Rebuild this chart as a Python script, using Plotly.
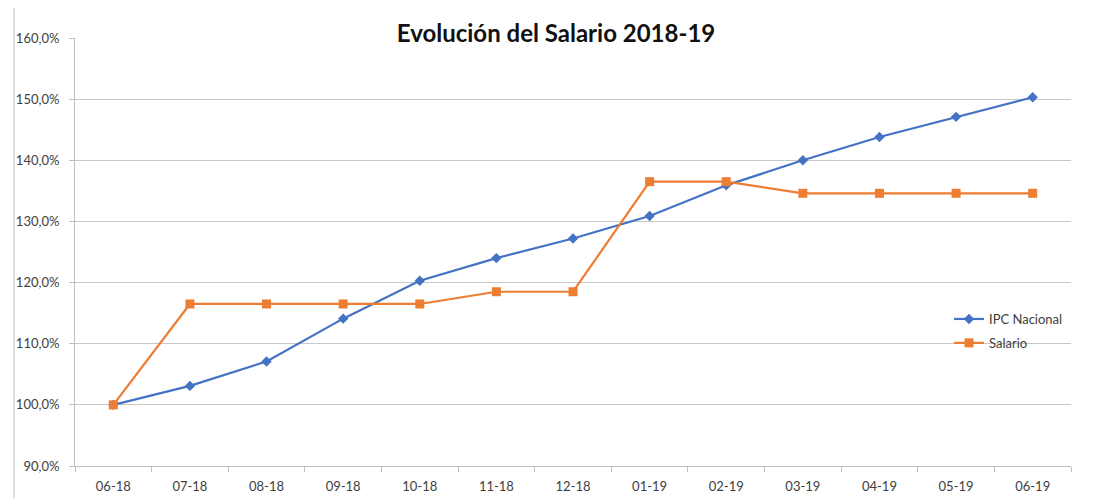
import plotly.graph_objects as go

months = ["06-18", "07-18", "08-18", "09-18", "10-18", "11-18", "12-18",
          "01-19", "02-19", "03-19", "04-19", "05-19", "06-19"]
ipc_nacional = [100.0, 103.1, 107.1, 114.1, 120.3, 124.0, 127.2,
                130.9, 135.9, 140.0, 143.8, 147.1, 150.3]
salario = [100.0, 116.5, 116.5, 116.5, 116.5, 118.5, 118.5,
           136.5, 136.5, 134.6, 134.6, 134.6, 134.6]
y_ticks = [90, 100, 110, 120, 130, 140, 150, 160]
y_tick_labels = ["90,0%", "100,0%", "110,0%", "120,0%", "130,0%", "140,0%", "150,0%", "160,0%"]

BLUE = "#4472C4"
ORANGE = "#ED7D31"
FONT = "Lato, 'Open Sans', sans-serif"

OFF = 8  # page body margin
PAGE_W, PAGE_H = 1093, 498
W, H = PAGE_W - OFF, PAGE_H - OFF
# plot area in page pixels
L, R, T, B = 75, 1071, 38, 466

def px_x(p):
    return (p - L) / (R - L)

def px_y(p):
    return (B - p) / (B - T)

fig = go.Figure()
fig.add_trace(go.Scatter(
    x=months, y=ipc_nacional, name="IPC Nacional", mode="lines+markers",
    legendgroup="a",
    line=dict(color=BLUE, width=2.2),
    marker=dict(symbol="diamond", size=8, color=BLUE),
))
fig.add_trace(go.Scatter(
    x=months, y=salario, name="Salario", mode="lines+markers",
    legendgroup="b",
    line=dict(color=ORANGE, width=2.2),
    marker=dict(symbol="square", size=9, color=ORANGE),
))

fig.update_layout(
    width=W, height=H,
    margin=dict(l=L - OFF, r=W - (R - OFF), t=T - OFF, b=H - (B - OFF), pad=0,
                autoexpand=False),
    paper_bgcolor="white", plot_bgcolor="white",
    font=dict(family=FONT, size=13, color="#404040"),
    title=dict(text="<b>Evolución del Salario 2018-19</b>",
               x=(556 - OFF) / W, xanchor="center", y=1 - (34 - OFF) / H, yanchor="middle",
               font=dict(family=FONT, size=24, color="#111111")),
    showlegend=True,
    legend=dict(x=px_x(949), y=px_y(304), xanchor="left", yanchor="top",
                bgcolor="rgba(0,0,0,0)", font=dict(family=FONT, size=13, color="#404040"),
                itemwidth=30, traceorder="grouped", tracegroupgap=4),
    xaxis=dict(type="category", range=[-0.5, 12.5], tickson="boundaries",
               ticks="outside", ticklen=5, tickcolor="#BFBFBF",
               ticklabelstandoff=8, automargin=False,
               showline=True, linecolor="#BFBFBF", linewidth=1,
               showgrid=False, tickfont=dict(family=FONT, size=13, color="#404040")),
    yaxis=dict(range=[90, 160], tickvals=y_ticks, ticktext=y_tick_labels,
               ticks="outside", ticklen=5, tickcolor="#BFBFBF",
               ticklabelstandoff=7, automargin=False,
               showline=True, linecolor="#BFBFBF", linewidth=1,
               showgrid=True, gridcolor="#C8C8C8", gridwidth=1,
               zeroline=False, tickfont=dict(family=FONT, size=13, color="#404040")),
    shapes=[
        dict(type="line", xref="paper", yref="paper",
             x0=px_x(14), x1=px_x(PAGE_W + 5), y0=px_y(5), y1=px_y(5),
             line=dict(color="#BFBFBF", width=1)),
        dict(type="line", xref="paper", yref="paper",
             x0=px_x(14), x1=px_x(14), y0=px_y(5), y1=px_y(PAGE_H + 5),
             line=dict(color="#BFBFBF", width=1)),
    ],
)

fig.write_html("out.html")
